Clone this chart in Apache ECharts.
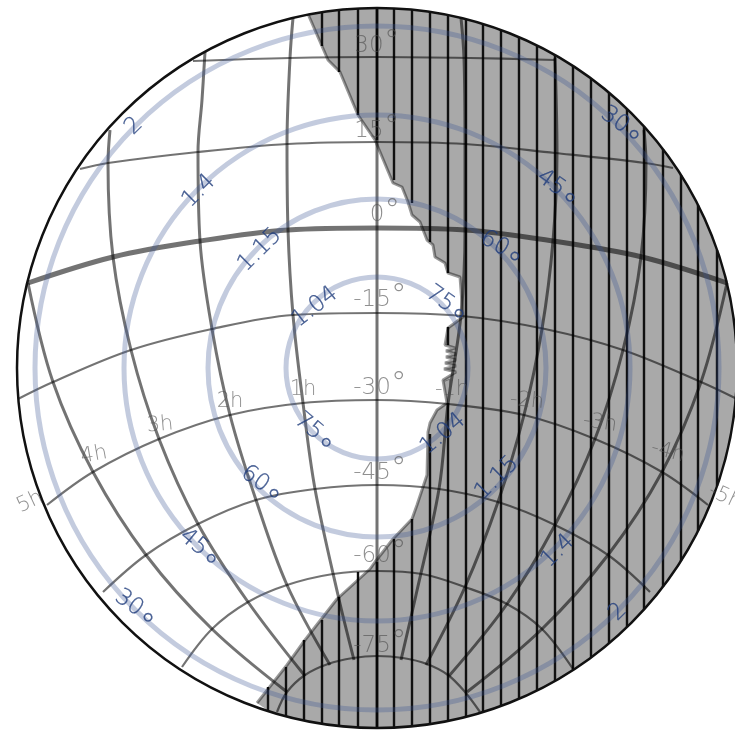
<!DOCTYPE html>
<html>
<head>
<meta charset="utf-8">
<style>html,body{margin:0;padding:0;background:#fff}#chart{width:735px;height:732px}</style>
<script src="https://cdn.jsdelivr.net/npm/echarts@6/dist/echarts.min.js"></script>
</head>
<body>
<div id="chart"></div>
<script>
var skyCentre = [377, 368];
var skyRadius = 360;

// lines of constant declination
var dec30 = [[193,61],[290,58],[377,57],[470,58],[555,60]];
var dec15 = [[80,169],[108,163],[198,152],[288,144],[377,142],[465,144],[555,153],[645,163],[673,168]];
var dec0 = [[28,283],[113,257],[200,241],[288,230],[377,228],[465,230],[553,241],[642,257],[727,283]];
var decM15 = [[18,399],[53,382],[131,350],[212,329],[293,315],[377,313],[462,316],[545,329],[623,350],[701,382],[737,399]];
var decM30 = [[47,505],[93,472],[159,439],[230,415],[303,403],[377,400],[448,404],[524,415],[595,439],[662,472],[708,505]];
var decM45 = [[103,592],[146,555],[198,524],[256,500],[315,489],[377,485],[439,489],[498,502],[555,525],[608,555],[650,592]];
var decM60 = [[182,667],[212,629],[248,602],[287,585],[333,574],[377,571],[422,574],[465,587],[507,604],[542,629],[573,669]];
var decM75 = [[277,712],[287,692],[305,675],[328,664],[353,658],[377,656],[403,658],[427,664],[448,675],[465,692],[480,712]];

// lines of constant hour angle
var ha0 = [[377,9],[377,727]];
var haP1 = [[293,18],[290,58],[287,144],[288,230],[293,315],[303,403],[315,489],[338,595],[354,660]];
var haP2 = [[205,52],[202,100],[198,152],[200,241],[212,329],[230,415],[256,500],[287,585],[330,665]];
var haP3 = [[110,130],[108,163],[113,257],[131,350],[159,439],[198,524],[248,602],[305,676]];
var haP4 = [[28,283],[53,382],[93,472],[146,555],[212,629],[287,692]];
var haM1 = [[461,18],[464,58],[465,144],[465,230],[461,315],[448,404],[439,489],[416,595],[401,660]];
var haM2 = [[555,58],[557,153],[553,241],[542,329],[524,415],[498,502],[465,587],[426,665]];
var haM3 = [[644,130],[646,163],[641,257],[623,350],[595,439],[555,525],[507,604],[449,676]];
var haM4 = [[727,283],[701,382],[662,472],[608,555],[542,629],[467,692]];

// edge of the shaded part, top to bottom
var shadeEdge = [[308,14],[328,60],[340,72],[358,115],[375,140],[393,183],[402,187],[408,202],[412,215],[420,222],[427,240],[433,245],[435,257],[445,263],[448,273],[460,277],[463,317],[448,328],[445,345],[455,348],[446,351],[456,354],[446,357],[456,360],[445,363],[456,366],[444,369],[456,372],[443,380],[447,403],[437,410],[430,423],[428,432],[427,475],[417,505],[412,519],[393,539],[375,562],[370,569],[337,599],[305,640],[287,665],[257,703]];

// hatching: x, from y, to y
var hatch = [
  [268,687,711],[286,667,716],[304,640,720],[322,620,723],[339,597,725],[358,572,727],
  [322,13,46],[339,10,72],[358,9,115],[377,8,140],[377,562,728],
  [394,9,180],[394,539,728],[412,10,203],[412,519,727],[430,12,242],[430,434,724],
  [448,15,273],[448,327,345],[448,403,721],
  [466,19,717],[483,24,712],[501,30,706],[519,37,699],[537,46,690],[555,55,681],[573,66,670],
  [591,79,657],[609,93,643],[627,109,627],[644,127,609],[663,149,587],[681,175,561],[698,205,531],[717,250,486]
];

// airmass / altitude rings
var ringRadii = [91, 169, 253, 342];
var airmassText = ['1.04', '1.15', '1.4', '2'];
var altitudeText = ['75', '60', '45', '30'];
var airmassNW = [[315,307,38],[260,250,45],[199,191,45],[134,126,45]];
var airmassSE = [[443,434,40],[497,478,45],[558,551,45],[618,612,45]];
var altitudeNE = [[447,304,-35],[502,248,-30],[558,188,-35],[622,125,-35]];
var altitudeSW = [[315,432,-40],[262,484,-35],[200,548,-40],[136,608,-35]];

var decText = ['30', '15', '0', '-15', '-30', '-45', '-60', '-75'];
var decPlace = [[377,46],[377,131],[385,215],[380,300],[380,388],[380,473],[380,556],[380,646]];
var hourText = ['1h','2h','3h','4h','5h','-1h','-2h','-3h','-4h','-5h'];
var hourPlace = [[303,390,0],[230,402,0],[160,425,5],[94,455,10],[30,502,25],[452,390,0],[527,401,-5],[600,423,-8],[668,452,-15],[725,497,-25]];

var chart = echarts.init(document.getElementById('chart'));
var FONT = '"DejaVu Sans Light","DejaVu Sans ExtraLight","DejaVu Sans"';
var GREY_TEXT = 'rgba(80,80,80,0.8)';
var BLUE_TEXT = '#1f3c7c';

function gridLine(points, width, color) {
  return {
    type: 'line', data: points, smooth: 0.35, symbol: 'none', silent: true,
    lineStyle: { color: color || 'rgba(0,0,0,0.55)', width: width }
  };
}

function textSeries(items) {
  return {
    type: 'scatter', symbolSize: 1, silent: true, itemStyle: { color: 'transparent' },
    data: items, z: 6
  };
}

function ringLabel(name, p, rich) {
  return {
    value: [p[0], p[1]],
    label: { show: true, position: 'inside', rotate: p[2], formatter: name, rich: rich }
  };
}

var airStyle = { color: BLUE_TEXT, fontFamily: FONT, fontSize: 23, textBorderColor: BLUE_TEXT, textBorderWidth: 0.3 };
var altRich = {
  n: { color: BLUE_TEXT, fontFamily: FONT, fontSize: 23, textBorderColor: BLUE_TEXT, textBorderWidth: 0.3 },
  d: { color: BLUE_TEXT, fontFamily: FONT, fontSize: 32, padding: [22, 0, 0, 1], textBorderColor: BLUE_TEXT, textBorderWidth: 0.3 }
};
var decRich = {
  n: { color: GREY_TEXT, fontFamily: FONT, fontSize: 23 },
  d: { color: GREY_TEXT, fontFamily: FONT, fontSize: 32, padding: [0, 0, 4, 0] }
};

function renderShade(params, api) {
  var pts = shadeEdge.map(function (p) { return api.coord(p); });
  var c = api.coord(skyCentre);
  var r = api.size([skyRadius, 0])[0];
  var last = pts[pts.length - 1], first = pts[0];
  var a0 = Math.atan2(last[1] - c[1], last[0] - c[0]);
  var a1 = Math.atan2(first[1] - c[1], first[0] - c[0]);
  // limb from the bottom end round the right side to the top end
  for (var i = 1; i < 90; i++) {
    var a = a0 + (a1 - a0) * i / 90;
    pts.push([c[0] + r * Math.cos(a), c[1] + r * Math.sin(a)]);
  }
  return { type: 'polygon', shape: { points: pts }, style: { fill: '#a9a9a9' } };
}

function renderHatch(params, api) {
  var a = api.coord([api.value(0), api.value(1)]);
  var b = api.coord([api.value(0), api.value(2)]);
  return {
    type: 'line', shape: { x1: a[0], y1: a[1], x2: b[0], y2: b[1] },
    style: { stroke: '#111', lineWidth: 2.4 }
  };
}

function ringRenderer(stroke, width) {
  return function (params, api) {
    var c = api.coord(skyCentre);
    return {
      type: 'circle',
      shape: { cx: c[0], cy: c[1], r: api.size([api.value(0), 0])[0] },
      style: { fill: 'none', stroke: stroke, lineWidth: width }
    };
  };
}

var series = [
  { type: 'custom', renderItem: renderShade, data: [[0]], silent: true, z: 1 },
  { type: 'custom', renderItem: renderHatch, data: hatch, silent: true, z: 2, encode: { x: 0, y: 1 } },
  { type: 'line', data: shadeEdge, symbol: 'none', silent: true, z: 2, lineStyle: { color: 'rgba(0,0,0,0.4)', width: 3 } }
];

[dec30, dec15, decM15, decM30, decM45, decM60, decM75].forEach(function (d) {
  series.push(gridLine(d, 2.2));
});
series.push(gridLine(dec0, 5));
[ha0, haP1, haP2, haP3, haP4, haM1, haM2, haM3, haM4].forEach(function (h) {
  series.push(gridLine(h, 3));
});

series.push({
  type: 'custom', renderItem: ringRenderer('rgba(57,82,146,0.3)', 5), data: ringRadii.map(function (r) { return [r]; }),
  silent: true, z: 4, encode: { x: 0 }
});
series.push({
  type: 'custom', renderItem: ringRenderer('#111', 2.5), data: [[skyRadius]], silent: true, z: 5, encode: { x: 0 }
});

var labels = [];
airmassNW.concat(airmassSE).forEach(function (p, i) {
  labels.push({
    value: [p[0], p[1]],
    label: Object.assign({ show: true, position: 'inside', rotate: p[2], formatter: airmassText[i % 4] }, airStyle)
  });
});
altitudeNE.concat(altitudeSW).forEach(function (p, i) {
  labels.push(ringLabel('{n|' + altitudeText[i % 4] + '}{d|°}', p, altRich));
});
decText.forEach(function (t, i) {
  labels.push(ringLabel('{n|' + t + '}{d|°}', [decPlace[i][0], decPlace[i][1], 0], decRich));
});
hourText.forEach(function (t, i) {
  labels.push({
    value: [hourPlace[i][0], hourPlace[i][1]],
    label: { show: true, position: 'inside', rotate: hourPlace[i][2], formatter: t, color: GREY_TEXT, fontFamily: FONT, fontSize: 21 }
  });
});
series.push(textSeries(labels));

chart.setOption({
  animation: false,
  grid: { left: 0, right: 0, top: 0, bottom: 0 },
  xAxis: { type: 'value', min: 0, max: 735, show: false },
  yAxis: { type: 'value', min: 0, max: 732, inverse: true, show: false },
  series: series
});
</script>
</body>
</html>
